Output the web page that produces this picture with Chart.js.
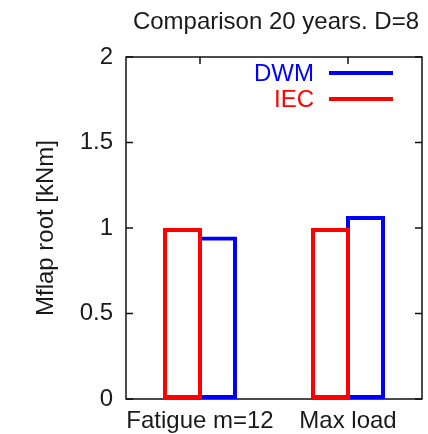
<!DOCTYPE html>
<html>
<head>
<meta charset="utf-8">
<script src="https://cdn.jsdelivr.net/npm/chart.js@4/dist/chart.umd.min.js"></script>
<style>
  html, body { margin: 0; padding: 0; background: #fff; }
  #wrap { width: 428px; height: 434px; }
</style>
</head>
<body>
<div id="wrap"><canvas id="chart"></canvas></div>
<script>
// values
const categories = ['Fatigue m=12', 'Max load'];
const iecValues = [1.0, 1.0];
const dwmValues = [0.95, 1.07];
const yTicks = [0, 0.5, 1, 1.5, 2];
const titleText = 'Comparison 20 years. D=8';

const FONT = "'Liberation Sans', Arial, Helvetica, sans-serif";
const SIZE = 24;
const TEXT = '#1a1a1a';
const RED = '#ff0000';
const BLUE = '#0000ff';

// frame box + inward ticks on all four sides, like gnuplot
const framePlugin = {
  id: 'frame',
  beforeDatasetsDraw(chart){
    const {ctx, chartArea: a, scales} = chart;
    ctx.save();
    ctx.strokeStyle = '#111';
    ctx.lineWidth = 1.5;
    ctx.strokeRect(a.left, a.top, a.right - a.left, a.bottom - a.top);
    const len = 7;
    ctx.beginPath();
    yTicks.forEach(v => {
      const y = scales.y.getPixelForValue(v);
      ctx.moveTo(a.left, y); ctx.lineTo(a.left + len, y);
      ctx.moveTo(a.right, y); ctx.lineTo(a.right - len, y);
    });
    categories.forEach((c,i) => {
      const x = scales.x.getPixelForValue(i);
      ctx.moveTo(x, a.top); ctx.lineTo(x, a.top + len);
      ctx.moveTo(x, a.bottom); ctx.lineTo(x, a.bottom - len);
    });
    ctx.stroke();
    ctx.restore();
  }
};

// title centred over the plot box, legend inside the plot at top right
const keyPlugin = {
  id: 'key',
  afterDraw(chart){
    const {ctx, chartArea: a} = chart;
    ctx.save();
    ctx.font = SIZE + 'px ' + FONT;
    ctx.fillStyle = TEXT;
    ctx.textAlign = 'center';
    ctx.textBaseline = 'alphabetic';
    ctx.fillText(titleText, (a.left + a.right) / 2 + 2, a.top - 28);

    const rows = [
      {label: 'DWM', color: BLUE, dy: 16},
      {label: 'IEC', color: RED, dy: 42}
    ];
    ctx.textAlign = 'right';
    ctx.textBaseline = 'middle';
    rows.forEach(r => {
      const y = a.top + r.dy;
      ctx.fillStyle = r.color;
      ctx.fillText(r.label, a.right - 108, y + 1);
      ctx.strokeStyle = r.color;
      ctx.lineWidth = 4;
      ctx.beginPath();
      ctx.moveTo(a.right - 93, y);
      ctx.lineTo(a.right - 29, y);
      ctx.stroke();
    });
    ctx.restore();
  }
};

const barStyle = {
  backgroundColor: 'rgba(0,0,0,0)',
  borderWidth: 4,
  borderSkipped: false,
  categoryPercentage: 0.473,
  barPercentage: 1.114
};

new Chart(document.getElementById('chart'), {
  type: 'bar',
  data: {
    labels: categories,
    datasets: [
      Object.assign({label: 'IEC', data: iecValues, borderColor: RED}, barStyle),
      Object.assign({label: 'DWM', data: dwmValues, borderColor: BLUE}, barStyle)
    ]
  },
  options: {
    responsive: true,
    maintainAspectRatio: false,
    animation: false,
    layout: {padding: {left: 0, right: 6, top: 57, bottom: 0}},
    plugins: {
      legend: {display: false},
      tooltip: {enabled: false},
      title: {display: false}
    },
    scales: {
      x: {
        grid: {display: false, drawTicks: false},
        border: {display: false},
        ticks: {
          color: TEXT,
          font: {family: FONT, size: SIZE},
          padding: 8,
          maxRotation: 0,
          autoSkip: false
        },
        afterFit: s => { s.height = 35; }
      },
      y: {
        min: 0,
        max: 2,
        afterBuildTicks: s => { s.ticks = yTicks.map(v => ({value: v})); },
        grid: {display: false, drawTicks: false},
        border: {display: false},
        ticks: {
          color: TEXT,
          font: {family: FONT, size: SIZE},
          padding: 13,
          callback: v => String(v)
        },
        title: {
          display: true,
          text: 'Mflap root [kNm]',
          color: TEXT,
          font: {family: FONT, size: SIZE},
          padding: {top: 32, bottom: 0}
        },
        afterFit: s => { s.width = 126; }
      }
    }
  },
  plugins: [framePlugin, keyPlugin]
});
</script>
</body>
</html>
